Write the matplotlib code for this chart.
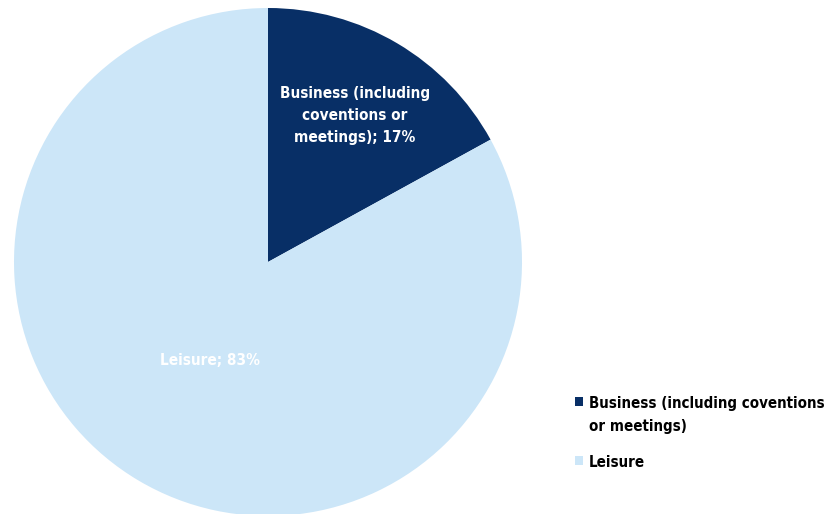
import numpy as np
import matplotlib
matplotlib.use("Agg")
import matplotlib.pyplot as plt
from matplotlib.patches import Rectangle

categories = ["Business (including coventions or meetings)", "Leisure"]
slice_labels = ["Business (including\ncoventions or\nmeetings)", "Leisure"]
legend_labels = ["Business (including coventions\nor meetings)", "Leisure"]
shares = [17, 83]
colors = ["#082F66", "#CCE6F8"]

FONT = ["DejaVu Sans"]

fig = plt.figure(figsize=(8.33, 5.14), dpi=100)
ax = fig.add_axes([14 / 833, -2 / 514, 508 / 833, 508 / 514])

wedges, _ = ax.pie(shares, colors=colors, startangle=90, counterclock=False,
                   radius=1.0, wedgeprops=dict(linewidth=0))
ax.set_xlim(-1, 1)
ax.set_ylim(-1, 1)
ax.set_aspect("equal")
ax.axis("off")

# in-slice labels placed along each wedge's mid-angle
label_radius = [0.67, 0.45]
for w, lab, val, r in zip(wedges, slice_labels, shares, label_radius):
    mid = np.deg2rad((w.theta1 + w.theta2) / 2)
    ax.text(r * np.cos(mid), r * np.sin(mid), f"{lab}; {val}%",
            ha="center", va="center", color="white", fontsize=11,
            fontweight="bold", family=FONT, fontstretch="condensed",
            linespacing=1.6)

# legend
legend_rows_y = [402, 461]
for lab, col, ypix in zip(legend_labels, colors, legend_rows_y):
    fy = 1 - ypix / 514
    fig.patches.append(Rectangle((575 / 833, fy - 4 / 514), 8 / 833, 9 / 514,
                                 transform=fig.transFigure, facecolor=col,
                                 edgecolor="none"))
    fig.text(589 / 833, fy + 6 / 514, lab, ha="left", va="top", fontsize=10.8,
             fontweight="bold", family=FONT, fontstretch="condensed",
             color="black", linespacing=1.65)

fig.savefig("out.png", dpi=100)
